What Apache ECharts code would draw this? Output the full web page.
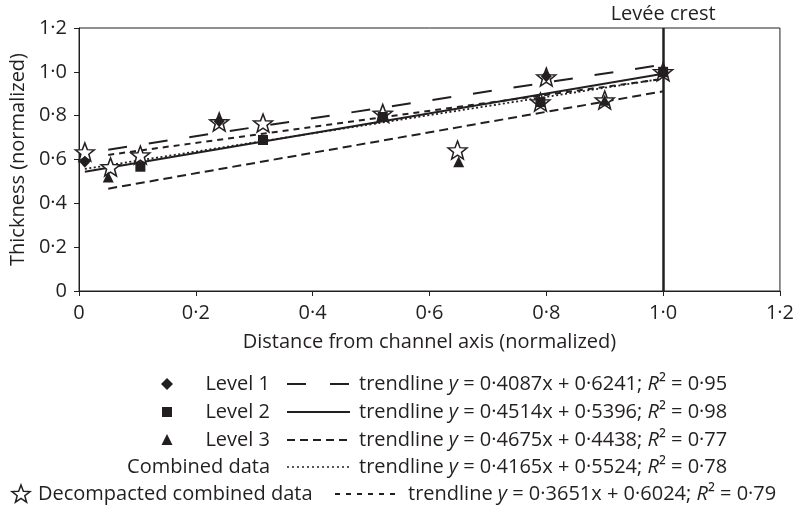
<!DOCTYPE html>
<html>
<head>
<meta charset="UTF-8">
<title>Levee thickness</title>
<script type="text/javascript" src="https://cdn.jsdelivr.net/npm/echarts@6/dist/echarts.min.js"></script>
</head>
<body style="margin:0">
	<div id="main" style="height:506px;width:797px"></div>
</body>
</html>

<script type="text/javascript">
var ink = '#231f20';
var font = 'Open Sans';

// measured points [distance, thickness]
var level1 = [[0.01, 0.59], [0.24, 0.775], [0.80, 0.98], [1.0, 1.0]];
var level2 = [[0.105, 0.567], [0.315, 0.689], [0.52, 0.794], [0.79, 0.862], [1.0, 1.0]];
var level3 = [[0.05, 0.52], [0.65, 0.59], [0.90, 0.87], [1.0, 1.0]];
var decompacted = [[0.01, 0.634], [0.054, 0.566], [0.105, 0.62], [0.24, 0.771], [0.315, 0.766],
  [0.52, 0.81], [0.648, 0.643], [0.79, 0.862], [0.80, 0.976], [0.90, 0.871], [1.0, 1.0]];

// trendline ends
var trend1 = [[0.05, 0.645], [1.0, 1.033]];
var trend2 = [[0.01, 0.544], [1.0, 0.991]];
var trend3 = [[0.05, 0.467], [1.0, 0.911]];
var trendCombined = [[0.01, 0.557], [1.0, 0.969]];
var trendDecomp = [[0.05, 0.621], [1.0, 0.968]];

var crestX = 1.0;

var legendNames = ['Level 1', 'Level 2', 'Level 3', 'Combined data', 'Decompacted combined data'];
var legendEq = [
  'trendline {i|y} = 0·4087x + 0·6241; {i|R}² = 0·95',
  'trendline {i|y} = 0·4514x + 0·5396; {i|R}² = 0·98',
  'trendline {i|y} = 0·4675x + 0·4438; {i|R}² = 0·77',
  'trendline {i|y} = 0·4165x + 0·5524; {i|R}² = 0·78',
  'trendline {i|y} = 0·3651x + 0·6024; {i|R}² = 0·79'
];

// 5 point star, outer radius 10, inner 4.2
var starPts = [[10, 0], [12.469, 6.602], [19.511, 6.910], [13.995, 11.298], [15.878, 18.090],
  [10, 14.2], [4.122, 18.090], [6.005, 11.298], [0.489, 6.910], [7.531, 6.602]];
var starPath = 'M' + starPts.map(function (p) { return p[0] + ' ' + p[1]; }).join(' L') + ' Z';

function fmt(v) {
  return v === 0 ? '0' : v.toFixed(1).replace('.', '·');
}

function trendSeries(data, dash, width) {
  return {
    type: 'line',
    data: data,
    symbol: 'none',
    z: 2,
    silent: true,
    lineStyle: { color: ink, width: width, type: dash }
  };
}

var rowY = [384, 412, 440, 467, 494];
var dashes = [[19, 24], null, [8, 5], [2, 3], [5, 6]];
var graphics = [];
rowY.forEach(function (y, i) {
  var last = i === 4;
  var lx = last ? 335 : 287;
  graphics.push({
    type: 'line',
    shape: { x1: lx, y1: y, x2: lx + 63, y2: y },
    style: { stroke: ink, lineWidth: i === 3 ? 1.6 : 2, lineDash: dashes[i] }
  });
  graphics.push({
    type: 'text',
    x: last ? 38 : 270,
    y: y,
    style: { text: legendNames[i], fill: ink, fontSize: 20, fontFamily: font, align: last ? 'left' : 'right', verticalAlign: 'middle' }
  });
  graphics.push({
    type: 'text',
    x: last ? 408 : 359,
    y: y,
    style: {
      text: legendEq[i], fill: ink, fontSize: 20, fontFamily: font, verticalAlign: 'middle',
      rich: { i: { fontStyle: 'italic', fontSize: 20, fontFamily: font, fill: ink } }
    }
  });
});
graphics.push({ type: 'polygon', shape: { points: [[167, rowY[0] - 6], [173, rowY[0]], [167, rowY[0] + 6], [161, rowY[0]]] }, style: { fill: ink } });
graphics.push({ type: 'rect', shape: { x: 162, y: rowY[1] - 5, width: 10, height: 10 }, style: { fill: ink } });
graphics.push({ type: 'polygon', shape: { points: [[167, rowY[2] - 6], [172.5, rowY[2] + 5], [161.5, rowY[2] + 5]] }, style: { fill: ink } });
graphics.push({
  type: 'polygon',
  shape: { points: starPts.map(function (p) { return [p[0] * 0.95 + 11.5, p[1] * 0.95 + rowY[4] - 9]; }) },
  style: { fill: '#fff', stroke: ink, lineWidth: 1.5 }
});

var myChart = echarts.init(document.getElementById('main'));

option = {
  animation: false,
  textStyle: { fontFamily: font, color: ink },
  grid: {
    left: 77, right: 15, top: 28, bottom: 215,
    show: true, borderColor: ink, borderWidth: 1, backgroundColor: 'transparent'
  },
  xAxis: {
    type: 'value', min: 0, max: 1.2, interval: 0.2,
    name: 'Distance from channel axis (normalized)',
    nameLocation: 'middle', nameGap: 41,
    nameTextStyle: { fontSize: 20, color: ink },
    axisLine: { show: true, lineStyle: { color: ink, width: 1 } },
    axisTick: { show: true, length: 5, lineStyle: { color: ink } },
    axisLabel: { fontSize: 20, color: ink, margin: 12, formatter: fmt },
    splitLine: { show: false }
  },
  yAxis: {
    type: 'value', min: 0, max: 1.2, interval: 0.2,
    name: 'Thickness (normalized)',
    nameLocation: 'middle', nameGap: 46,
    nameTextStyle: { fontSize: 20, color: ink },
    axisLine: { show: true, lineStyle: { color: ink, width: 1 } },
    axisTick: { show: true, length: 5, lineStyle: { color: ink } },
    axisLabel: { fontSize: 20, color: ink, margin: 12, formatter: fmt },
    splitLine: { show: false }
  },
  graphic: graphics,
  series: [
    trendSeries(trend1, [19, 22], 2),
    trendSeries(trend2, 'solid', 2),
    trendSeries(trend3, [9, 5], 2),
    trendSeries(trendCombined, [2, 2.5], 1.8),
    trendSeries(trendDecomp, [6, 5], 2),
    {
      type: 'line',
      data: [],
      markLine: {
        silent: true,
        symbol: 'none',
        lineStyle: { color: ink, width: 2.5, type: 'solid' },
        label: { show: true, position: 'end', formatter: 'Levée crest', fontSize: 20, color: ink, distance: 4 },
        data: [{ xAxis: crestX }]
      }
    },
    {
      type: 'scatter', data: decompacted, z: 3,
      symbol: 'path://' + starPath, symbolSize: [19, 18],
      itemStyle: { color: '#fff', borderColor: ink, borderWidth: 1.5, opacity: 1 }
    },
    {
      type: 'scatter', data: level1, z: 4,
      symbol: 'diamond', symbolSize: [11, 12],
      itemStyle: { color: ink, opacity: 1 }
    },
    {
      type: 'scatter', data: level2, z: 4,
      symbol: 'rect', symbolSize: 10,
      itemStyle: { color: ink, opacity: 1 }
    },
    {
      type: 'scatter', data: level3, z: 4,
      symbol: 'triangle', symbolSize: [11, 11],
      itemStyle: { color: ink, opacity: 1 }
    }
  ]
};

myChart.setOption(option);
</script>
